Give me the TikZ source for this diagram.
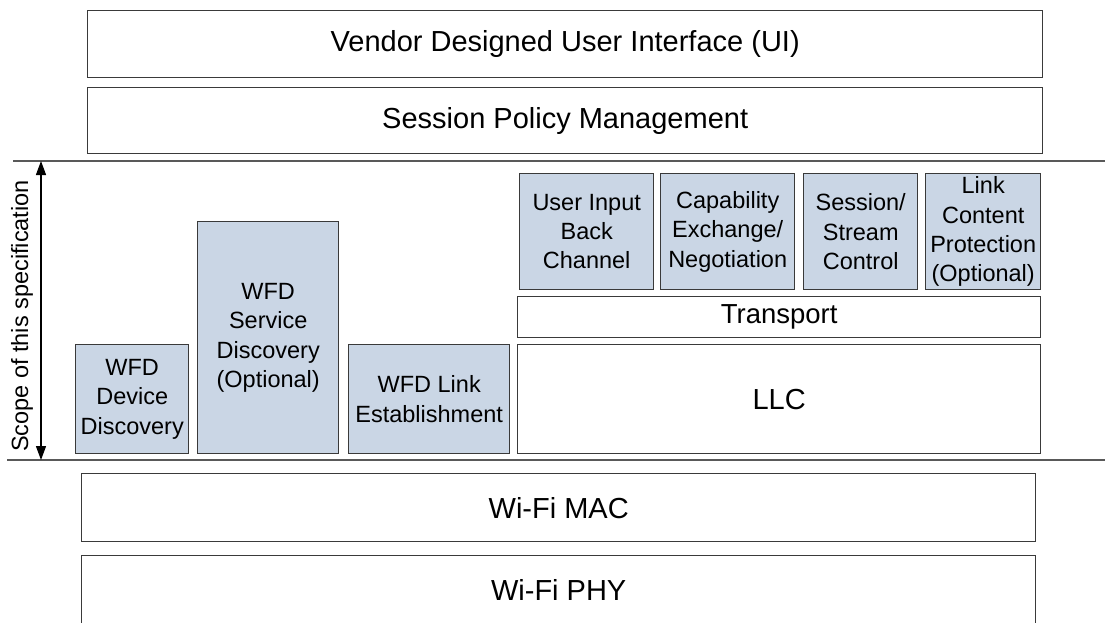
\documentclass[tikz,border=0pt]{standalone}
\usepackage{fontspec}
\setmainfont{Liberation Sans}
\usetikzlibrary{arrows.meta}
\definecolor{blockblue}{HTML}{CAD6E5}
\definecolor{edgegray}{HTML}{3A3A3A}

\begin{document}
\begin{tikzpicture}[x=1pt, y=-1pt,
layer/.style={draw=edgegray, line width=1.4pt, fill=white, anchor=north west, inner sep=0pt, align=center, font=\fontsize{29}{34}\selectfont},
block/.style={layer, fill=blockblue, font=\fontsize{23.5}{29.3}\selectfont},
divider/.style={draw=gray!70!black, line width=1.4pt}]
\useasboundingbox (0,0) rectangle (1105,622);

%Top layers
\node [layer, minimum width=955pt, minimum height=67pt] at (87,10) (ui) {Vendor Designed User Interface (UI)};
\node [layer, minimum width=955pt, minimum height=66pt] at (87,87) (spm) {Session Policy Management};

%Scope
\draw [divider] (13,161) -- (1105,161);
\draw [divider] (7,460) -- (1105,460);
\coordinate (scopetop) at (41,161);
\coordinate (scopebot) at (41,460);
\draw [line width=1.3pt, {Triangle[length=14pt,width=10pt]}-{Triangle[length=14pt,width=10pt]}] (scopetop) -- (scopebot);
\node [rotate=90, font=\fontsize{23.5}{28}\selectfont] at (22,316) (scope) {Scope of this specification};

%WFD blocks
\node [block, minimum width=113pt, minimum height=109pt] at (75,344) (devdisc) {WFD\\Device\\Discovery};
\node [block, minimum width=141pt, minimum height=232pt] at (197,221) (srvdisc) {WFD\\Service\\Discovery\\(Optional)};
\node [block, minimum width=161pt, minimum height=109pt] at (348,344) (link) {WFD Link\\Establishment};
\node [layer, minimum width=523pt, minimum height=109pt] at (517,344) (llc) {LLC};
\node [layer, minimum width=523pt, minimum height=41pt, font=\fontsize{27.5}{32}\selectfont] at (517,296) (transport) {Transport};

\node [block, minimum width=134pt, minimum height=116pt] at (519,173) (uibc) {User Input\\Back\\Channel};
\node [block, minimum width=134pt, minimum height=116pt] at (660,173) (capex) {Capability\\Exchange/\\Negotiation};
\node [block, minimum width=114pt, minimum height=116pt] at (803,173) (stream) {Session/\\Stream\\Control};
\node [block, minimum width=115pt, minimum height=116pt] at (925,173) (hdcp) {Link\\Content\\Protection\\(Optional)};

%Wi-Fi
\node [layer, minimum width=954pt, minimum height=68pt] at (81,473) (mac) {Wi-Fi MAC};
\node [layer, minimum width=954pt, minimum height=68pt] at (81,555) (phy) {Wi-Fi PHY};
\end{tikzpicture}
\end{document}
